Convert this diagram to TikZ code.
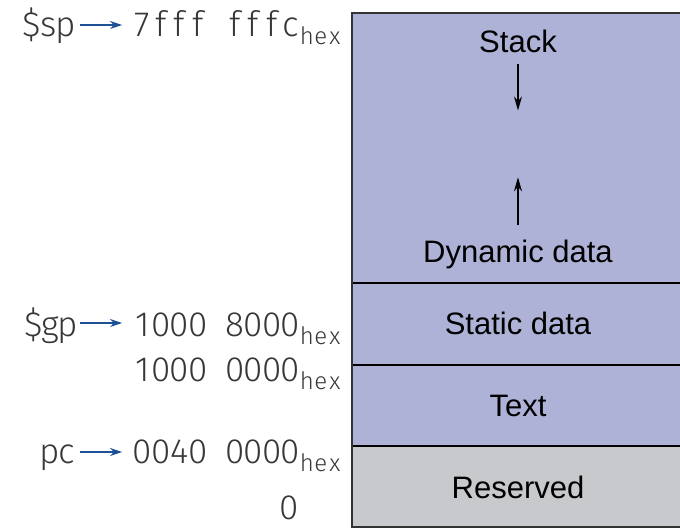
\documentclass[tikz,border=0pt]{standalone}
\usepackage{fontspec}
\setmainfont{Liberation Sans}
\newfontfamily\addrfont{Fira Sans Light}
\usetikzlibrary{arrows.meta}

\definecolor{memblue}{RGB}{174,178,214}
\definecolor{memgray}{RGB}{200,201,204}
\definecolor{ptrblue}{RGB}{30,80,150}
\definecolor{addrtext}{RGB}{55,55,55}

% fixed pitch for the address labels
\newlength{\monow}
\makeatletter
\def\mono#1#2{\setlength{\monow}{#1}\mono@#2\@nil}
\def\mono@#1{\ifx#1\@nil\else\makebox[\monow]{#1}\expandafter\mono@\fi}
\makeatother
\newcommand{\hexsub}{\raisebox{-8pt}{\fontsize{24}{24}\selectfont\mono{14pt}{hex}}}

\begin{document}
\begin{tikzpicture}[x=1pt,y=-1pt,
        seglabel/.style={anchor=base,inner sep=0pt,font=\fontsize{31}{31}\selectfont},
        addr/.style={anchor=base east,inner sep=0pt,text=addrtext,font=\addrfont\fontsize{35}{35}\selectfont},
        ptr/.style={-{Stealth[length=12pt,width=8pt]},ptrblue,line width=2pt},
        growth/.style={-{Stealth[length=14pt,width=8pt]},line width=1.5pt}]
        \useasboundingbox (0,0) rectangle (680,528);

        % memory segments
        \fill[memblue] (352,13) rectangle (684,446);
        \fill[memgray] (352,446) rectangle (684,527);
        \draw[line width=1.2pt] (352,283) -- (684,283);
        \draw[line width=1.2pt] (352,365) -- (684,365);
        \draw[line width=1.2pt] (352,446) -- (684,446);
        \draw[line width=1.6pt,black!80] (684,13) -- (352,13) -- (352,527) -- (684,527);

        \node[seglabel] (stack) at (518,52) {Stack};
        \node[seglabel] (dyn) at (518,262) {Dynamic data};
        \node[seglabel] (static) at (518,334) {Static data};
        \node[seglabel] (text) at (518,416) {Text};
        \node[seglabel] (reserved) at (518,498) {Reserved};

        \draw[growth] ([yshift=-11pt]stack.south) -- ++(0,47);
        \draw[growth] ([yshift=14pt]dyn.north) -- ++(0,-48);

        % addresses
        \node[addr] (sptop) at (342,36) {\mono{18.5pt}{7fff~fffc}\hexsub};
        \node[addr] (gpaddr) at (342,336) {\mono{18.5pt}{1000~8000}\hexsub};
        \node[addr] (dataaddr) at (342,381) {\mono{18.5pt}{1000~0000}\hexsub};
        \node[addr] (pcaddr) at (342,463) {\mono{18.5pt}{0040~0000}\hexsub};
        \node[addr] (zero) at (299,519) {\mono{18.5pt}{0}};

        % pointers
        \node[addr] (sp) at (74,36) {\mono{17pt}{\$sp}};
        \node[addr] (gp) at (76,336) {\mono{17pt}{\$gp}};
        \node[addr] (pc) at (75,463) {\mono{17pt}{pc}};

        \draw[ptr] ([xshift=6pt,yshift=11pt]sp.base east) -- ([xshift=-11pt,yshift=11pt]sp.base east -| sptop.west);
        \draw[ptr] ([xshift=4pt,yshift=13pt]gp.base east) -- ([xshift=-11pt,yshift=13pt]gp.base east -| gpaddr.west);
        \draw[ptr] ([xshift=5pt,yshift=11pt]pc.base east) -- ([xshift=-11pt,yshift=11pt]pc.base east -| pcaddr.west);
    \end{tikzpicture}
\end{document}
